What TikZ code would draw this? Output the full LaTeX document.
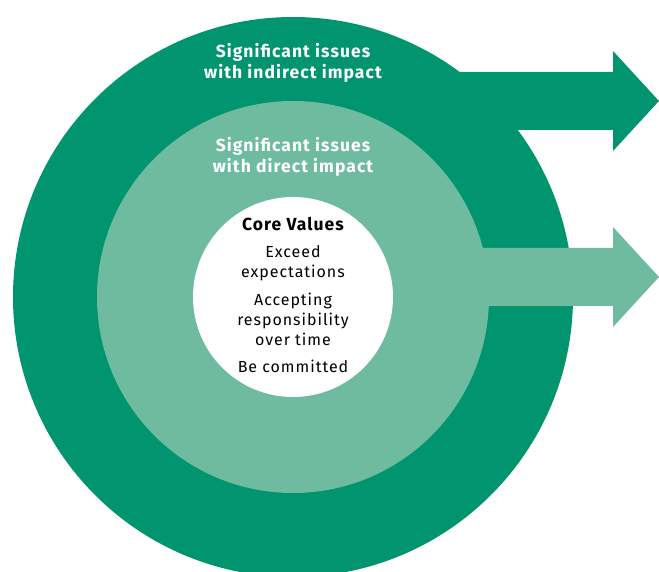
\documentclass[tikz,border=0pt]{standalone}
\usepackage{fontspec}
\setmainfont{Fira Sans}
\newfontfamily\labelfont[LetterSpace=6]{Fira Sans}
\usepackage{xcolor}
\definecolor{darkgreen}{HTML}{00956E}
\definecolor{lightgreen}{HTML}{6EBBA0}
\begin{document}
\begin{tikzpicture}[x=1pt, y=-1pt,
    ringtext/.style={text=white, align=center, font=\labelfont\fontsize{17.5}{20.5}\selectfont\bfseries},
    coretext/.style={text=black, align=center, font=\labelfont\fontsize{16}{20}\selectfont}]
                \useasboundingbox (0,0) rectangle (659,572);
                \clip (0,0) rectangle (659,572);

                % Outer ring and its arrow
                \fill[darkgreen] (293,297) circle[radius=280pt];
                \fill[darkgreen] (400,72) -- (613,72) -- (613,51) -- (659,101) -- (613,151) -- (613,130) -- (400,130) -- cycle;

                % Middle ring and its arrow
                \fill[lightgreen] (293,297) circle[radius=196pt];
                \fill[lightgreen] (400,248) -- (613,248) -- (613,227) -- (659,277) -- (613,327) -- (613,306) -- (400,306) -- cycle;

                % Core
                \fill[white] (293,297) circle[radius=100pt];

                % Labels
                \node[ringtext] (indirect) at (293,63) {Significant issues\\with indirect impact};
                \node[ringtext] (direct) at (293,157) {Significant issues\\with direct impact};
                \node[coretext] (core) at (293,295) {{\fontsize{17.5}{20}\selectfont\bfseries Core Values}\\[7pt]
                    Exceed\\expectations\\[8pt]
                    Accepting\\responsibility\\over time\\[7pt]
                    Be committed};
            \end{tikzpicture}
\end{document}
